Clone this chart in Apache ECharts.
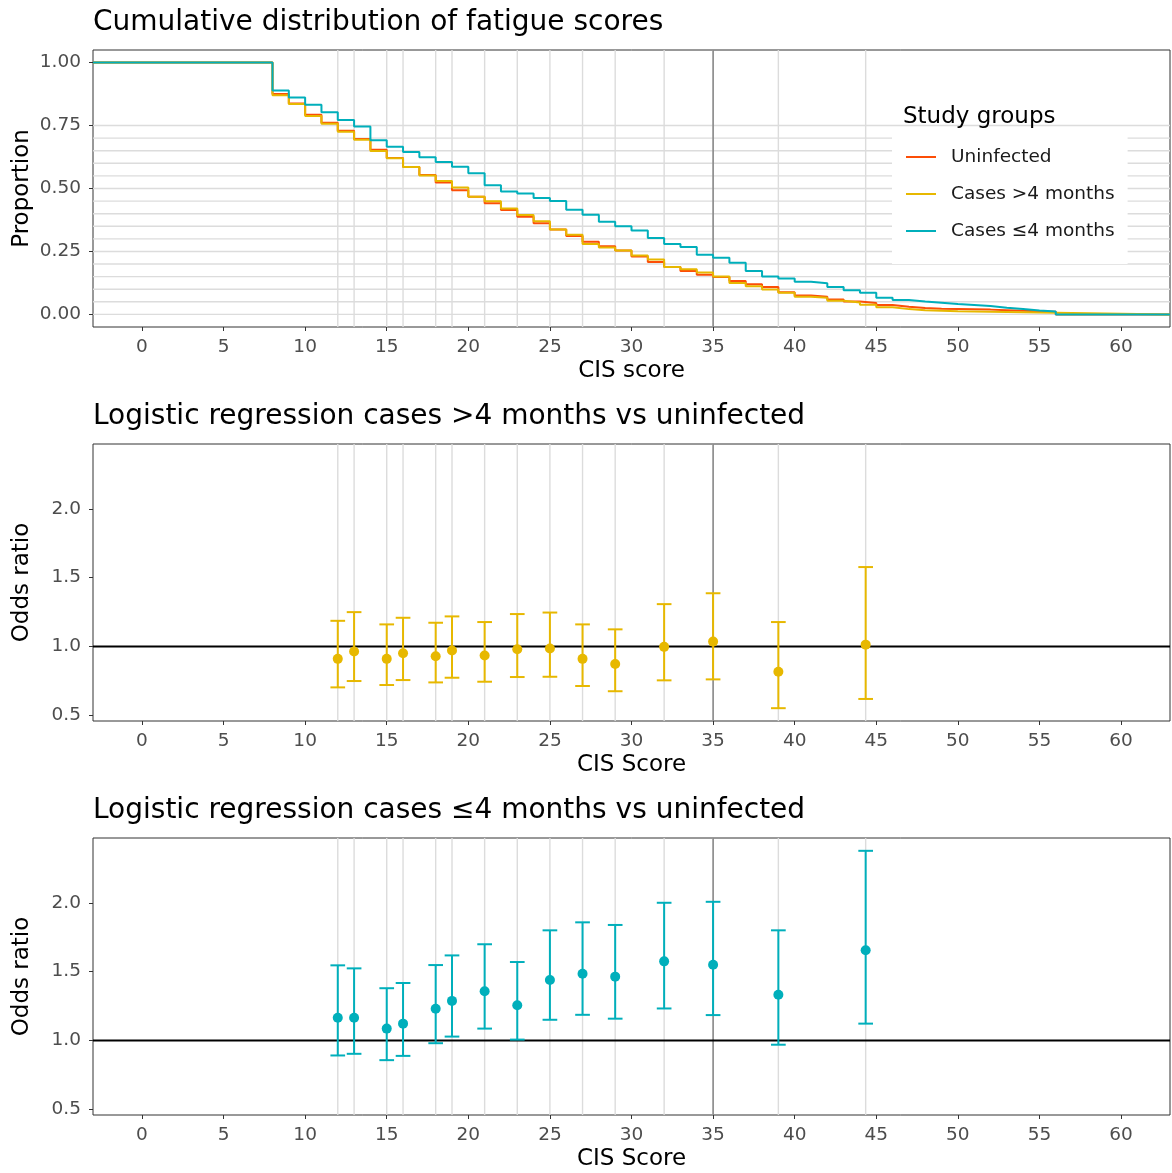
<!DOCTYPE html>
<html>
<head>
<meta charset="utf-8">
<script src="https://cdn.jsdelivr.net/npm/echarts@6/dist/echarts.min.js"></script>
<style>
html,body{margin:0;padding:0;background:#fff;}
#chart{width:1172px;height:1173px;}
</style>
</head>
<body>
<div id="chart"></div>
<script>
// ---------- data ----------
const groupNames = ['Uninfected', 'Cases >4 months', 'Cases \u22644 months'];
const groupColors = ['#FC4E07', '#E7B800', '#00AFBB'];

// CIS score thresholds where the survival-type ECDF steps
const cisScores = [8,9,10,11,12,13,14,15,16,17,18,19,20,21,22,23,24,25,26,27,28,29,30,31,32,
  33,34,35,36,37,38,39,40,41,42,43,44,45,46,47,48,49,50,51,52,53,54,55,56];

const propUninfected = [0.875,0.838,0.793,0.761,0.729,0.697,0.654,0.621,0.585,0.554,0.524,0.493,0.467,
  0.441,0.415,0.388,0.362,0.337,0.311,0.289,0.271,0.254,0.230,0.208,0.188,0.172,0.157,0.149,0.133,
  0.120,0.109,0.088,0.075,0.070,0.059,0.051,0.045,0.037,0.030,0.025,0.022,0.021,0.020,0.019,0.017,
  0.015,0.013,0.011,0];
const propOlder = [0.870,0.836,0.788,0.757,0.725,0.694,0.649,0.620,0.585,0.552,0.530,0.504,0.467,
  0.449,0.421,0.395,0.370,0.337,0.316,0.280,0.266,0.254,0.234,0.218,0.188,0.179,0.166,0.151,0.125,
  0.112,0.099,0.086,0.070,0.066,0.054,0.047,0.038,0.028,0.021,0.017,0.015,0.013,0.012,0.011,0.010,
  0.009,0.008,0.007,0];
const propRecent = [0.889,0.861,0.833,0.803,0.772,0.746,0.692,0.666,0.645,0.624,0.605,0.586,0.561,
  0.513,0.488,0.480,0.462,0.450,0.416,0.396,0.368,0.350,0.333,0.303,0.280,0.268,0.237,0.225,0.205,
  0.172,0.151,0.143,0.130,0.124,0.109,0.096,0.086,0.066,0.057,0.051,0.046,0.041,0.037,0.033,0.026,
  0.021,0.016,0.012,0];

// logistic regression results at quantile cut-offs
const orScores = [12,13,15,16,18,19,21,23,25,27,29,32,35,39,44.35];
const orOlder   = [0.911,0.964,0.911,0.952,0.930,0.971,0.935,0.981,0.986,0.911,0.873,0.998,1.036,0.817,1.014];
const lowOlder  = [0.704,0.750,0.721,0.757,0.740,0.774,0.745,0.779,0.781,0.714,0.676,0.755,0.762,0.553,0.620];
const highOlder = [1.187,1.250,1.161,1.209,1.173,1.219,1.178,1.236,1.247,1.161,1.125,1.308,1.387,1.178,1.577];
const orRecent   = [1.166,1.166,1.087,1.123,1.231,1.288,1.358,1.257,1.440,1.485,1.464,1.575,1.550,1.332,1.656];
const lowRecent  = [0.892,0.904,0.858,0.889,0.981,1.029,1.087,1.007,1.151,1.187,1.159,1.233,1.185,0.970,1.123];
const highRecent = [1.546,1.524,1.380,1.418,1.548,1.618,1.699,1.570,1.800,1.858,1.839,2.000,2.007,1.800,2.377];

// reference lines and ticks
const propGridLevels = [0,0.05,0.10,0.15,0.20,0.25,0.30,0.35,0.40,0.45,0.50,0.55,0.60,0.65,0.70,0.75];
const cutoffScore = 35;
const refOR = 1;
const xTicks = [0,5,10,15,20,25,30,35,40,45,50,55,60];
const propTicks = [0,0.25,0.5,0.75,1];
const orTicks = [0.5,1.0,1.5,2.0];
const titles = ['Cumulative distribution of fatigue scores',
  'Logistic regression cases >4 months vs uninfected',
  'Logistic regression cases \u22644 months vs uninfected'];

// ---------- chart ----------
const FONT = 'DejaVu Sans';
const X_MIN = -3, X_MAX = 63;
const gridTops = [50, 444, 838];
const GRID_H = 277;

const chart = echarts.init(document.getElementById('chart'), null, {renderer: 'canvas'});

function vLineSeries(idx, values, color, width, z) {
  return {
    type: 'custom', xAxisIndex: idx, yAxisIndex: idx, silent: true, z: z,
    data: values.map(v => [v]),
    encode: {x: 0},
    renderItem: function (params, api) {
      const cs = params.coordSys;
      const x = api.coord([api.value(0), 0])[0];
      return {type: 'line', shape: {x1: x, y1: cs.y, x2: x, y2: cs.y + cs.height},
        style: {stroke: color, lineWidth: width}};
    }
  };
}
function hLineSeries(idx, values, color, width, z) {
  return {
    type: 'custom', xAxisIndex: idx, yAxisIndex: idx, silent: true, z: z,
    data: values.map(v => [0, v]),
    encode: {x: 0, y: 1},
    renderItem: function (params, api) {
      const cs = params.coordSys;
      const y = api.coord([0, api.value(1)])[1];
      return {type: 'line', shape: {x1: cs.x, y1: y, x2: cs.x + cs.width, y2: y},
        style: {stroke: color, lineWidth: width}};
    }
  };
}
function errorBarSeries(idx, xs, lows, highs, color) {
  return {
    type: 'custom', xAxisIndex: idx, yAxisIndex: idx, silent: true, z: 4,
    data: xs.map((x, i) => [x, lows[i], highs[i]]),
    encode: {x: 0, y: [1, 2]},
    renderItem: function (params, api) {
      const x = api.value(0);
      const pLo = api.coord([x, api.value(1)]);
      const pHi = api.coord([x, api.value(2)]);
      const hw = api.size([0.9, 0])[0] / 2;
      const st = {stroke: color, lineWidth: 2};
      return {type: 'group', children: [
        {type: 'line', shape: {x1: pLo[0], y1: pLo[1], x2: pHi[0], y2: pHi[1]}, style: st},
        {type: 'line', shape: {x1: pLo[0] - hw, y1: pLo[1], x2: pLo[0] + hw, y2: pLo[1]}, style: st},
        {type: 'line', shape: {x1: pHi[0] - hw, y1: pHi[1], x2: pHi[0] + hw, y2: pHi[1]}, style: st}
      ]};
    }
  };
}
function stepData(props) {
  return [[X_MIN, 1]].concat(cisScores.map((s, i) => [s, props[i]])).concat([[X_MAX, 0]]);
}

const xNames = ['CIS score', 'CIS Score', 'CIS Score'];
const yNames = ['Proportion', 'Odds ratio', 'Odds ratio'];

const grids = gridTops.map(t => ({left: 93, top: t, width: 1077, height: GRID_H, show: true,
  containLabel: false, outerBoundsMode: 'none',
  borderColor: '#333333', borderWidth: 1, backgroundColor: 'transparent', z: 0}));

const xAxes = [0, 1, 2].map(i => ({
  type: 'value', gridIndex: i, min: X_MIN, max: X_MAX,
  axisLine: {show: false, onZero: false},
  axisTick: {show: true, length: 4, customValues: xTicks, lineStyle: {color: '#333333', width: 1}},
  axisLabel: {customValues: xTicks, color: '#4D4D4D', fontSize: 18.5, fontFamily: FONT, margin: 11},
  splitLine: {show: false},
  name: xNames[i], nameLocation: 'middle', nameGap: 33, nameMoveOverlap: false,
  nameTextStyle: {fontSize: 23, color: '#000', fontFamily: FONT}
}));

const yAxes = [0, 1, 2].map(i => ({
  type: 'value', gridIndex: i,
  min: i === 0 ? -0.05 : 0.46, max: i === 0 ? 1.05 : 2.47,
  axisLine: {show: false, onZero: false},
  axisTick: {show: true, length: 4, customValues: i === 0 ? propTicks : orTicks,
    lineStyle: {color: '#333333', width: 1}},
  axisLabel: {customValues: i === 0 ? propTicks : orTicks, color: '#4D4D4D', fontSize: 18.5,
    fontFamily: FONT, margin: 12,
    formatter: v => i === 0 ? v.toFixed(2) : v.toFixed(1)},
  splitLine: {show: false},
  name: yNames[i], nameLocation: 'middle', nameGap: 59, nameMoveOverlap: false,
  nameTextStyle: {fontSize: 23, color: '#000', fontFamily: FONT}
}));

const series = [];
// top panel reference lines
series.push(hLineSeries(0, propGridLevels, '#DCDCDC', 1.4, 1));
series.push(vLineSeries(0, orScores, '#DCDCDC', 1.4, 1));
series.push(vLineSeries(0, [cutoffScore], '#6E6E6E', 1.2, 1));
// step curves
[propUninfected, propOlder, propRecent].forEach((p, k) => {
  series.push({
    type: 'line', name: groupNames[k], xAxisIndex: 0, yAxisIndex: 0,
    data: stepData(p), step: 'end', symbol: 'none', showSymbol: false,
    lineStyle: {color: groupColors[k], width: 2}, itemStyle: {color: groupColors[k]},
    z: 3 + k, clip: true, animation: false
  });
});
// OR panels
[[1, orOlder, lowOlder, highOlder, groupColors[1]],
 [2, orRecent, lowRecent, highRecent, groupColors[2]]].forEach(([idx, ors, lo, hi, col]) => {
  series.push(vLineSeries(idx, orScores, '#DCDCDC', 1.4, 1));
  series.push(vLineSeries(idx, [cutoffScore], '#6E6E6E', 1.2, 1));
  series.push(hLineSeries(idx, [refOR], '#000000', 2, 2));
  series.push(errorBarSeries(idx, orScores, lo, hi, col));
  series.push({
    type: 'scatter', name: 'OR' + idx, xAxisIndex: idx, yAxisIndex: idx,
    data: orScores.map((x, i) => [x, ors[i]]), symbol: 'circle', symbolSize: 10,
    itemStyle: {color: col, opacity: 1}, z: 5, silent: true
  });
});

const option = {
  backgroundColor: '#ffffff',
  animation: false,
  textStyle: {fontFamily: FONT},
  title: titles.map((t, i) => ({
    text: t, left: 93, top: gridTops[i] - 41, padding: 0,
    textStyle: {fontSize: 28, fontWeight: 'normal', color: '#000', fontFamily: FONT}
  })).concat([{
    text: 'Study groups', left: 903, top: 106, padding: 0,
    textStyle: {fontSize: 23, fontWeight: 'normal', color: '#000', fontFamily: FONT}
  }]),
  legend: {
    data: groupNames, orient: 'vertical', left: 892, top: 128,
    icon: 'rect',
    padding: [18, 13, 22, 14], itemGap: 15, itemWidth: 30, itemHeight: 2,
    backgroundColor: '#ffffff', selectedMode: false, z: 10,
    textStyle: {fontSize: 18.5, color: '#1A1A1A', fontFamily: FONT, lineHeight: 22, padding: [0, 0, 0, 10]}
  },
  grid: grids,
  xAxis: xAxes,
  yAxis: yAxes,
  series: series
};
chart.setOption(option);
</script>
</body>
</html>
